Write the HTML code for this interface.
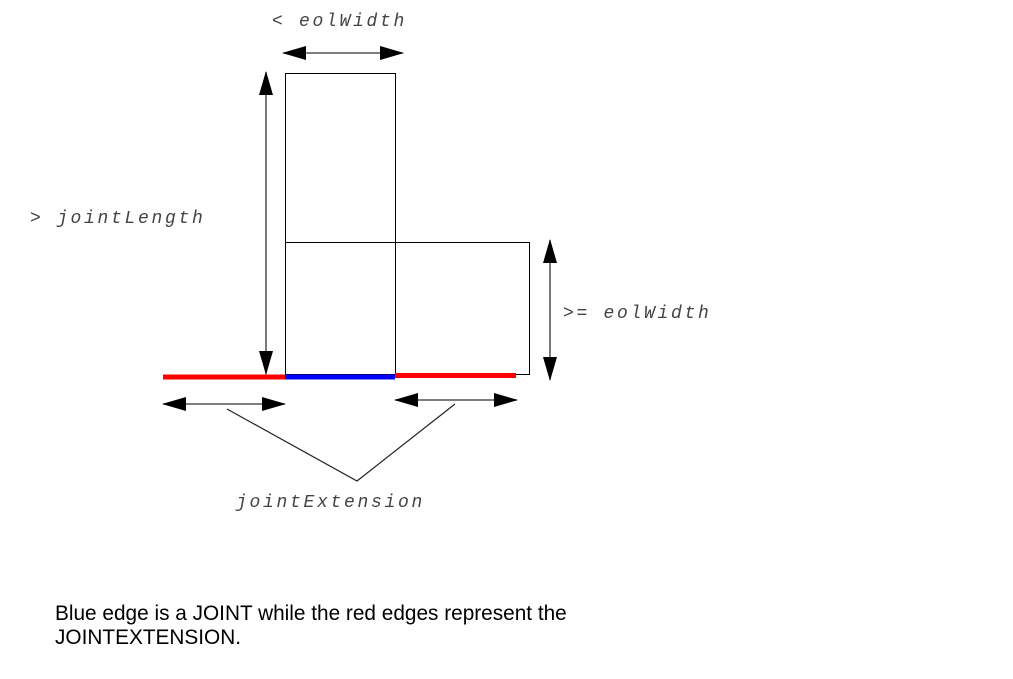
<!DOCTYPE html>
<html><head><meta charset="utf-8"><style>
html,body{margin:0;padding:0;background:#fff;width:1013px;height:679px;overflow:hidden}
.m{font-family:"Liberation Mono",monospace;font-style:italic;font-size:18px;letter-spacing:2.7px;fill:#444}
.s{font-family:"Liberation Sans",sans-serif;font-size:20.8px;fill:#000}
</style></head><body>
<svg width="1013" height="679" xmlns="http://www.w3.org/2000/svg">
<defs>
<marker id="a" markerWidth="24" markerHeight="14" refX="23" refY="7" orient="auto-start-reverse" markerUnits="userSpaceOnUse">
<path d="M0,0 L24,7 L0,14 Z" fill="#000"/></marker>
</defs>
<g fill="none" stroke="#000" stroke-width="1">
<rect x="285.5" y="73.5" width="110" height="301"/>
<rect x="395.5" y="242.5" width="134" height="132"/>
<line x1="285" y1="242.5" x2="396" y2="242.5"/>
</g>
<line x1="163" y1="377" x2="285" y2="377" stroke="#f00" stroke-width="5"/>
<line x1="285" y1="377" x2="395" y2="377" stroke="#00f" stroke-width="5"/>
<line x1="395" y1="375.5" x2="516" y2="375.5" stroke="#f00" stroke-width="5"/>
<g stroke="#333" stroke-width="1.3" marker-start="url(#a)" marker-end="url(#a)">
<line x1="283" y1="53" x2="403" y2="53"/>
<line x1="266" y1="72" x2="266" y2="374"/>
<line x1="550" y1="240" x2="550" y2="380"/>
<line x1="163" y1="404" x2="285" y2="404"/>
<line x1="395" y1="400" x2="517" y2="400"/>
</g>
<polyline points="227,409 357,481 455,404" fill="none" stroke="#222" stroke-width="1.2"/>
<text class="m" x="272" y="26">&lt; eolWidth</text>
<text class="m" x="30" y="223">&gt; jointLength</text>
<text class="m" x="563" y="318">&gt;= eolWidth</text>
<text class="m" x="236" y="507">jointExtension</text>
<text class="s" x="55" y="620">Blue edge is a JOINT while the red edges represent the</text>
<text class="s" x="55" y="644">JOINTEXTENSION.</text>
</svg>
</body></html>
